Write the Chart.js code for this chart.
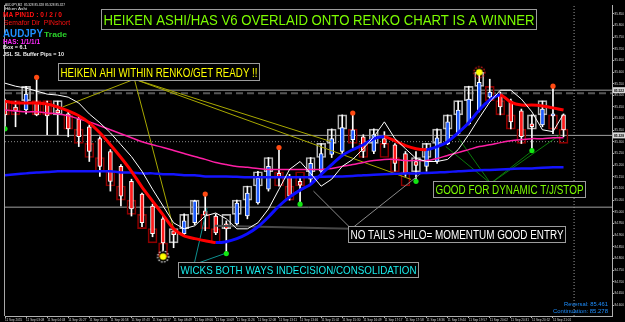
<!DOCTYPE html>
<html>
<head>
<meta charset="utf-8">
<script src="https://cdn.jsdelivr.net/npm/chart.js@4.4.1/dist/chart.umd.min.js"></script>
<style>
html, body { margin: 0; padding: 0; background: #000; }
#wrap { width: 625px; height: 322px; }
</style>
</head>
<body>
<div id="wrap"><canvas id="renko" width="625" height="322"></canvas></div>
<script>
// ═══ AUDJPY renko + Heiken Ashi overlay ═══

// renko bricks (box 6.1 pips)
const renkoOpen = [85.477,85.477,85.477,85.477,85.477,85.416,85.416,85.355,85.294,85.233,85.172,85.111,85.050,84.989,84.928,84.867,84.867,84.928,84.989,84.989,84.928,84.928,84.989,85.050,85.111,85.172,85.172,85.111,85.172,85.172,85.233,85.294,85.355,85.355,85.294,85.294,85.294,85.233,85.172,85.172,85.233,85.294,85.355,85.416,85.477,85.538,85.538,85.477,85.416,85.355,85.355,85.416,85.416,85.355];
const renkoClose = [85.416,85.416,85.538,85.416,85.416,85.477,85.355,85.294,85.233,85.172,85.111,85.050,84.989,84.928,84.867,84.806,84.928,84.989,85.050,84.928,84.867,84.989,85.050,85.111,85.172,85.233,85.111,85.050,85.111,85.233,85.294,85.355,85.416,85.294,85.233,85.355,85.233,85.172,85.111,85.233,85.294,85.355,85.416,85.477,85.538,85.599,85.477,85.416,85.355,85.294,85.416,85.477,85.355,85.294];

// heiken ashi candles
const haOpen = [85.471,85.450,85.437,85.471,85.467,85.437,85.420,85.399,85.365,85.314,85.259,85.195,85.131,85.076,85.025,84.970,84.919,84.906,84.953,85.004,84.982,84.948,84.948,84.982,85.038,85.097,85.165,85.148,85.131,85.140,85.174,85.246,85.259,85.310,85.322,85.259,85.314,85.288,85.250,85.216,85.195,85.216,85.293,85.335,85.378,85.437,85.492,85.505,85.475,85.433,85.378,85.373,85.412,85.416];
const haClose = [85.416,85.433,85.505,85.416,85.412,85.424,85.356,85.322,85.259,85.195,85.131,85.067,85.012,84.953,84.906,84.867,84.902,84.961,85.046,84.987,84.910,84.927,85.038,85.080,85.144,85.195,85.148,85.067,85.114,85.208,85.250,85.314,85.361,85.352,85.259,85.331,85.293,85.208,85.165,85.199,85.271,85.318,85.386,85.437,85.484,85.556,85.514,85.450,85.386,85.322,85.365,85.441,85.420,85.352];
const haHigh = [85.484,85.475,85.539,85.577,85.475,85.475,85.429,85.407,85.373,85.322,85.267,85.203,85.140,85.080,85.033,84.982,84.931,84.991,85.050,85.076,84.991,84.961,85.050,85.110,85.174,85.233,85.276,85.161,85.152,85.233,85.293,85.356,85.416,85.424,85.331,85.356,85.344,85.293,85.259,85.259,85.293,85.356,85.416,85.475,85.539,85.599,85.569,85.514,85.484,85.441,85.416,85.475,85.539,85.420];
const haLow = [85.356,85.365,85.420,85.412,85.331,85.331,85.322,85.280,85.216,85.152,85.089,85.025,84.982,84.936,84.893,84.834,84.846,84.893,84.944,84.919,84.902,84.821,84.936,84.970,85.033,85.089,85.110,85.050,85.033,85.123,85.165,85.233,85.250,85.276,85.233,85.250,85.276,85.174,85.152,85.131,85.174,85.208,85.288,85.331,85.373,85.429,85.475,85.416,85.356,85.293,85.263,85.365,85.335,85.322];

// indicator lines
const maLine = [85.475,85.467,85.467,85.467,85.463,85.450,85.433,85.412,85.382,85.339,85.288,85.233,85.174,85.106,85.046,84.987,84.927,84.897,84.885,84.876,84.868,84.872,84.885,84.906,84.936,84.978,85.025,85.063,85.093,85.118,85.161,85.203,85.242,85.267,85.288,85.314,85.322,85.305,85.284,85.271,85.267,85.280,85.301,85.339,85.382,85.437,85.480,85.501,85.471,85.458,85.458,85.454,85.446,85.437];
const whiteLine = [85.552,85.539,85.531,85.518,85.505,85.501,85.492,85.467,85.420,85.382,85.339,85.288,85.237,85.174,85.097,85.025,84.953,84.927,84.940,84.982,84.995,84.970,84.927,84.927,84.953,85.012,85.097,85.182,85.216,85.165,85.110,85.140,85.195,85.225,85.271,85.322,85.386,85.314,85.271,85.229,85.216,85.216,85.225,85.267,85.331,85.403,85.471,85.522,85.522,85.484,85.429,85.352,85.344,85.420];
const pinkLine = [85.437,85.433,85.429,85.429,85.424,85.420,85.412,85.399,85.386,85.369,85.352,85.335,85.318,85.301,85.288,85.276,85.263,85.250,85.237,85.225,85.212,85.203,85.195,85.191,85.186,85.182,85.182,85.182,85.182,85.182,85.182,85.186,85.195,85.203,85.212,85.220,85.225,85.225,85.220,85.220,85.220,85.229,85.242,85.254,85.267,85.280,85.288,85.297,85.305,85.310,85.314,85.314,85.318,85.318];
const slowLine = [85.157,85.161,85.165,85.169,85.171,85.174,85.174,85.174,85.174,85.174,85.174,85.169,85.169,85.165,85.165,85.161,85.161,85.157,85.157,85.152,85.152,85.152,85.150,85.148,85.148,85.148,85.148,85.148,85.148,85.148,85.150,85.152,85.152,85.154,85.157,85.159,85.161,85.163,85.165,85.165,85.167,85.169,85.171,85.174,85.176,85.178,85.180,85.182,85.184,85.186,85.186,85.189,85.191,85.191];

// semafor dots and suns
const upDotIdx = [3, 19, 26, 33, 52];
const downDotIdx = [0, 21, 28, 39, 50];
const sunIdx = [15, 45];
const sunPrice = [84.808, 85.599];

// horizontal levels: solid, dashed, bid, dotted, solid
const hLevels = [85.522, 85.509, 85.328, 85.301, 85.020];
const cursorX = 54.0;

// hand drawn trend lines [x1, y1, x2, y2] in bar index / price
const yellowLines = [[12.28,85.569,5.48,85.450],[12.28,85.569,16.05,84.919],[12.28,85.569,30.97,85.301],[12.28,85.569,38.53,85.139]];
const greenLines = [[46.08,85.122,41.83,85.280],[46.08,85.122,43.06,85.314],[46.08,85.122,49.95,85.259],[46.08,85.122,52.69,85.331]];
const grayLines = [[32.86,84.927,29.27,85.089],[32.86,84.927,39.47,85.165]];
const darkLines = [[19.92,84.940,32.86,84.927]];
const tealLines = [[17.94,84.774,19.17,85.016],[17.94,84.774,20.87,84.821]];

const timeLabels = ['11 Sep 2015','11 Sep 03:08','11 Sep 04:03','11 Sep 05:27','11 Sep 06:04','11 Sep 06:58','11 Sep 07:43','11 Sep 08:17','11 Sep 08:49','11 Sep 09:06','11 Sep 10:09','11 Sep 11:26','11 Sep 12:08','11 Sep 13:11','11 Sep 13:46','11 Sep 15:02','11 Sep 15:30','11 Sep 16:49','11 Sep 17:17','11 Sep 17:58','11 Sep 18:36','11 Sep 19:44','11 Sep 19:57','11 Sep 20:02','11 Sep 20:31','11 Sep 20:52','11 Sep 21:01'];
const priceTicks = [85.85,85.80,85.75,85.70,85.65,85.60,85.55,85.50,85.45,85.40,85.35,85.30,85.25,85.20,85.15,85.10,85.05,85.00,84.95,84.90,84.85,84.80,84.75,84.70,84.65,84.60];

const priceMin = 84.553, priceMax = 85.8875;
const xMin = 0, xMax = 57.6;
const FONT = '"Liberation Sans", Arial, sans-serif';

// ═══ helpers ═══
const idx = renkoOpen.map((_, i) => i);
const pts = arr => arr.map((v, i) => ({ x: i, y: v }));
const seg = (l, color, width, dash) => ({
    type: 'line', data: [{ x: l[0], y: l[1] }, { x: l[2], y: l[3] }],
    borderColor: color, borderWidth: width, borderDash: dash || [], pointRadius: 0, order: 6
});

function sunImage(ring) {
    const c = document.createElement('canvas');
    c.width = 15; c.height = 15;
    const g = c.getContext('2d');
    g.setLineDash([1.5, 1.5]);
    g.strokeStyle = ring; g.lineWidth = 1.2;
    g.beginPath(); g.arc(7.5, 7.5, 5.5, 0, Math.PI * 2); g.stroke();
    g.fillStyle = '#ffff00';
    g.beginPath(); g.arc(7.5, 7.5, 3.3, 0, Math.PI * 2); g.fill();
    return c;
}

function fitText(c, text, x, y, w, size, weight, color, align) {
    c.save();
    c.font = (weight || 'normal') + ' ' + size + 'px ' + FONT;
    const tw = c.measureText(text).width;
    c.fillStyle = color;
    c.textBaseline = 'alphabetic';
    c.translate(align === 'right' ? x - w : x, y);
    c.scale(w / tw, 1);
    c.fillText(text, 0, 0);
    c.restore();
}

function boxText(c, text, x, y, w, h, color, size) {
    c.save();
    c.fillStyle = '#000';
    c.fillRect(x, y, w, h);
    c.strokeStyle = '#9c9c9c';
    c.lineWidth = 1;
    c.strokeRect(x + 0.5, y + 0.5, w - 1, h - 1);
    c.restore();
    fitText(c, text, x + 2.5, y + h / 2 + size * 0.36, w - 5, size, 'normal', color);
}

// ═══ datasets ═══
const datasets = [];

datasets.push({
    type: 'bar', label: 'renko',
    data: idx.map(i => ({ x: i, y: [renkoOpen[i], renkoClose[i]] })),
    backgroundColor: 'rgba(0,0,0,0)',
    borderColor: idx.map(i => renkoClose[i] > renkoOpen[i] ? '#b4b4b4' : '#8c0000'),
    borderWidth: 1, borderSkipped: false, barThickness: 9, grouped: false, order: 9
});
datasets.push({
    type: 'bar', label: 'wick',
    data: idx.map(i => ({ x: i, y: [haLow[i], haHigh[i]] })),
    backgroundColor: '#ffffff', barThickness: 1, grouped: false, order: 8
});
datasets.push({
    type: 'bar', label: 'ha',
    data: idx.map(i => ({ x: i, y: [haOpen[i], haClose[i]] })),
    backgroundColor: idx.map(i => haClose[i] > haOpen[i] ? '#1f5cff' : '#ff1a1a'),
    borderColor: '#ffffff', borderWidth: 1, borderSkipped: false,
    barThickness: 4, grouped: false, order: 7
});

// horizontal levels and the cursor line
const levelStyle = [
    { color: '#a0a0a0', width: 1, dash: [] },
    { color: '#555555', width: 2, dash: [7, 4] },
    { color: '#a0a0a0', width: 1, dash: [] },
    { color: '#8a8a8a', width: 1, dash: [1, 2] },
    { color: '#a0a0a0', width: 1, dash: [] }
];
hLevels.forEach((v, k) => {
    const end = k === 3 ? 53.2 : xMax;
    datasets.push({
        type: 'line', data: [{ x: xMin, y: v }, { x: end, y: v }],
        borderColor: levelStyle[k].color, borderWidth: levelStyle[k].width,
        borderDash: levelStyle[k].dash, pointRadius: 0, order: 10
    });
});
datasets.push({
    type: 'line', data: [{ x: cursorX, y: priceMin }, { x: cursorX, y: priceMax }],
    borderColor: '#9a9a9a', borderWidth: 1, borderDash: [1, 2], pointRadius: 0, order: 10
});

yellowLines.forEach(l => datasets.push(seg(l, '#a8a800', 1)));
greenLines.forEach(l => datasets.push(seg(l, '#0a7a0a', 1)));
grayLines.forEach(l => datasets.push(seg(l, '#8a8a8a', 1)));
darkLines.forEach(l => datasets.push(seg(l, '#474747', 2)));
tealLines.forEach(l => datasets.push(seg(l, '#0e9090', 1)));

datasets.push({
    type: 'line', data: pts(slowLine), borderColor: '#1414ff', borderWidth: 2.5,
    pointRadius: 0, tension: 0.3, order: 5
});
datasets.push({
    type: 'line', data: pts(pinkLine), borderColor: '#ff1fa5', borderWidth: 1.5,
    pointRadius: 0, tension: 0.3, order: 4
});
datasets.push({
    type: 'line', data: pts(maLine), borderColor: '#ff0000', borderWidth: 3,
    pointRadius: 0, tension: 0.25, order: 3,
    segment: { borderColor: ctx => ctx.p1.parsed.y > ctx.p0.parsed.y ? '#0d0dff' : '#ff0000' }
});
datasets.push({
    type: 'line', data: pts(whiteLine), borderColor: '#ffffff', borderWidth: 1,
    pointRadius: 0, tension: 0, order: 2
});

datasets.push({
    type: 'line', showLine: false, order: 1,
    data: upDotIdx.map(i => ({ x: i, y: haHigh[i] })),
    pointRadius: 2.6, pointBackgroundColor: '#ff4a12', pointBorderWidth: 0
});
datasets.push({
    type: 'line', showLine: false, order: 1,
    data: downDotIdx.map(i => ({ x: i, y: haLow[i] })),
    pointRadius: 2.6, pointBackgroundColor: '#12e612', pointBorderWidth: 0
});
datasets.push({
    type: 'line', showLine: false, order: 0,
    data: sunIdx.map((i, k) => ({ x: i, y: sunPrice[k] })),
    pointStyle: [sunImage('#ffffff'), sunImage('#ff2020')]
});

// ═══ text overlay ═══
const overlay = {
    id: 'overlay',
    beforeDraw(chart) {
        const c = chart.ctx;
        c.save();
        c.fillStyle = '#000';
        c.fillRect(0, 0, chart.width, chart.height);
        c.restore();
    },
    afterDraw(chart) {
        const c = chart.ctx;
        const a = chart.chartArea;
        const ys = chart.scales.y;

        // left frame edge
        c.save();
        c.strokeStyle = '#a8a8a8';
        c.lineWidth = 1;
        c.beginPath(); c.moveTo(a.left - 0.5, a.top); c.lineTo(a.left - 0.5, a.bottom); c.stroke();
        c.restore();

        // price tags on the axis
        [hLevels[0], hLevels[2]].forEach(v => {
            const y = ys.getPixelForValue(v);
            c.fillStyle = '#d8d8d8';
            c.fillRect(a.right + 1, y - 3, 12, 6);
            fitText(c, v.toFixed(3), a.right + 2, y + 1.5, 10, 4, 'bold', '#000');
        });

        // info block, top left
        fitText(c, 'AUDJPY,M2  85.328 85.328 85.328 85.327', 5, 5.5, 60, 3.6, 'normal', '#e8e8e8');
        fitText(c, 'Hiken Ashi', 5, 9.5, 22, 3.6, 'normal', '#e8e8e8');
        fitText(c, 'MA PIN1D : 0 / 2 / 0', 3, 17, 59, 7.5, 'bold', '#ff1010');
        fitText(c, 'Semafor Dir  PINshort', 4, 25, 66, 7.5, 'normal', '#ff1010');
        fitText(c, 'AUDJPY', 3, 36.5, 40, 11, 'bold', '#1e90ff');
        fitText(c, 'Trade', 44, 36.5, 23, 8, 'bold', '#2ad02a');
        fitText(c, 'HAS: 1/1/1/1', 3, 43.5, 37, 7, 'bold', '#ff2aff');
        fitText(c, 'Box = 6.1', 3, 49, 24, 5.5, 'bold', '#f0f0f0');
        fitText(c, 'JSL SL Buffer Pips = 10', 3, 55.5, 61, 5.5, 'bold', '#f0f0f0');

        // annotation boxes
        boxText(c, 'HEIKEN ASHI/HAS V6 OVERLAID ONTO RENKO CHART IS A WINNER', 101, 9, 436, 21, '#7cfc00', 15);
        boxText(c, 'HEIKEN AHI WITHIN RENKO/GET READY !!', 58, 63, 202, 18, '#ffff00', 12.5);
        boxText(c, 'NO TAILS >HILO= MOMENTUM GOOD ENTRY', 348, 226, 218, 17, '#ffffff', 12);
        boxText(c, 'WICKS BOTH WAYS INDECISION/CONSOLIDATION', 178, 262, 241, 16, '#19ecec', 11.5);
        boxText(c, 'GOOD FOR DYNAMIC T/J/STOP', 433, 181, 153, 17, '#7cfc00', 12);

        // reversal / continuation levels
        fitText(c, 'Reversal: 85.461', 608, 306, 44, 6, 'normal', '#1e8fff', 'right');
        fitText(c, 'Continuation: 85.278', 608, 312.5, 55, 6, 'normal', '#1e8fff', 'right');
    }
};

new Chart(document.getElementById('renko'), {
    type: 'bar',
    data: { datasets: datasets },
    options: {
        responsive: false,
        animation: false,
        devicePixelRatio: 1,
        events: [],
        layout: { padding: { left: 2, top: 2, right: 0, bottom: 0 } },
        plugins: { legend: { display: false }, tooltip: { enabled: false } },
        scales: {
            x: {
                type: 'linear', min: xMin, max: xMax, offset: false,
                grid: { display: true, drawOnChartArea: false, offset: false, tickLength: 2, color: '#b0b0b0' },
                border: { display: true, color: '#b0b0b0' },
                afterBuildTicks: s => { s.ticks = timeLabels.map((_, k) => ({ value: 2 * k })); },
                afterFit: s => { s.height = 6; },
                ticks: {
                    autoSkip: false, maxRotation: 0, minRotation: 0, align: 'start', padding: 0.5,
                    color: '#d8d8d8', font: { size: 3.1, family: FONT },
                    callback: v => timeLabels[Math.round(v / 2)] || ''
                }
            },
            y: {
                type: 'linear', position: 'right', min: priceMin, max: priceMax,
                grid: { display: true, drawOnChartArea: false, tickLength: 2, color: '#b0b0b0' },
                border: { display: true, color: '#b0b0b0' },
                afterBuildTicks: s => { s.ticks = priceTicks.map(v => ({ value: v })); },
                afterFit: s => { s.width = 13; },
                ticks: {
                    autoSkip: false, padding: 0.5,
                    color: '#d8d8d8', font: { size: 3.1, family: FONT },
                    callback: v => v.toFixed(3)
                }
            }
        }
    },
    plugins: [overlay]
});
</script>
</body>
</html>
